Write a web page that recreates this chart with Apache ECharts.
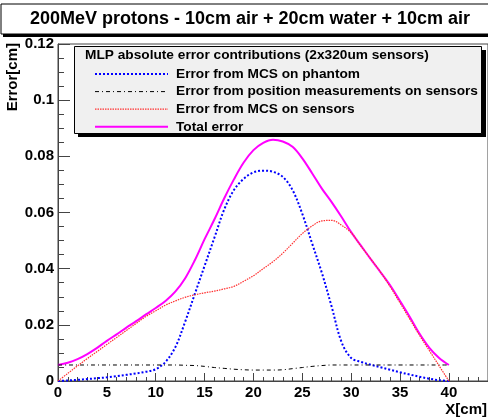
<!DOCTYPE html>
<html>
<head>
<meta charset="utf-8">
<script src="https://cdn.jsdelivr.net/npm/echarts@6/dist/echarts.min.js"></script>
<style>
html,body{margin:0;padding:0;background:#fff;}
#chart{width:488px;height:417px;}
</style>
</head>
<body>
<div id="chart"></div>
<script>
const chartTitle = '200MeV protons - 10cm air + 20cm water + 10cm air';
const legendHeader = 'MLP absolute error contributions (2x320um sensors)';
const seriesNames = ['Error from MCS on phantom', 'Error from position measurements on sensors', 'Error from MCS on sensors', 'Total error'];
const xTitle = 'X[cm]';
const yTitle = 'Error[cm]';

const xValues = [0,1,2,3,4,5,6,7,8,9,10,11,12,13,14,15,16,17,18,19,20,21,22,23,24,25,26,27,28,29,30,31,32,33,34,35,36,37,38,39,40];

const mcsPhantom = [0,0.0002,0.0004,0.0007,0.001,0.0013,0.0017,0.0022,0.0027,0.0033,0.0042,0.0068,0.012,0.021,0.031,0.041,0.051,0.061,0.068,0.072,0.0743,0.0749,0.0745,0.0727,0.068,0.0595,0.049,0.0385,0.0265,0.014,0.0082,0.0068,0.0058,0.0049,0.004,0.0031,0.0023,0.0015,0.0008,0.0003,0];
const posMeas = [0.0057,0.0057,0.0057,0.0057,0.0057,0.0057,0.0057,0.0057,0.0057,0.0057,0.0057,0.0057,0.0057,0.0056,0.0055,0.0052,0.0048,0.0045,0.0042,0.004,0.0039,0.0039,0.0039,0.004,0.0044,0.0048,0.0052,0.0055,0.0057,0.0057,0.0057,0.0057,0.0057,0.0057,0.0057,0.0057,0.0057,0.0057,0.0057,0.0057,0.0057];
const mcsSensors = [0,0.0027,0.0054,0.008,0.0105,0.013,0.0155,0.018,0.0205,0.023,0.025,0.027,0.0285,0.0298,0.0307,0.0314,0.032,0.0328,0.0337,0.0355,0.0375,0.04,0.0425,0.0455,0.049,0.0525,0.0552,0.057,0.0572,0.0555,0.0528,0.048,0.0435,0.0388,0.0335,0.0278,0.022,0.0162,0.0108,0.0054,0];
const totalErr = [0.0057,0.0065,0.0078,0.0096,0.0118,0.0143,0.0166,0.019,0.0213,0.0237,0.026,0.0285,0.0318,0.0365,0.043,0.0505,0.0575,0.065,0.0718,0.0778,0.0822,0.0848,0.0859,0.0853,0.0834,0.0793,0.074,0.0685,0.0637,0.0585,0.053,0.0482,0.0434,0.0388,0.034,0.0285,0.0228,0.0168,0.0118,0.0082,0.0057];

const FONT = 'Liberation Sans, Arial, Helvetica, sans-serif';
function pairs(arr){ return xValues.map((x,i)=>[x, arr[i]]); }

const styles = [
  {color:'#0000ff', width:2, type:[2,2]},
  {color:'#000000', width:1, type:[4,3,1,3]},
  {color:'#ff3030', width:1.2, type:[1.5,1]},
  {color:'#ff00ff', width:2, type:'solid'}
];

const chart = echarts.init(document.getElementById('chart'), null, {renderer:'canvas'});
const axisColor = '#444';
chart.setOption({
  animation: false,
  backgroundColor: '#fff',
  grid: {left:58, top:44, right:0, bottom:36, show:true, borderColor:axisColor, borderWidth:1, backgroundColor:'transparent'},
  xAxis: {
    type:'value', min:0, max:44, interval:5,
    axisLine:{lineStyle:{color:axisColor, width:1}},
    axisTick:{inside:true, length:8, lineStyle:{color:axisColor}},
    minorTick:{show:true, splitNumber:5, length:4, lineStyle:{color:axisColor}},
    splitLine:{show:false},
    axisLabel:{color:'#000', fontFamily:FONT, fontWeight:'bold', fontSize:15, margin:4, showMaxLabel:false}
  },
  yAxis: {
    type:'value', min:0, max:0.12, interval:0.02,
    axisLine:{lineStyle:{color:axisColor, width:1}},
    axisTick:{inside:true, length:12, lineStyle:{color:axisColor}},
    minorTick:{show:true, splitNumber:4, length:6, lineStyle:{color:axisColor}},
    splitLine:{show:false},
    axisLabel:{color:'#000', fontFamily:FONT, fontWeight:'bold', fontSize:15, margin:4,
      formatter: v => String(+v.toFixed(2))}
  },
  legend: {
    data: seriesNames.map((n,i)=>({name:n, lineStyle:{color:styles[i].color, width:styles[i].width, type:styles[i].type}})),
    orient:'vertical', left:89, top:62,
    itemWidth:73, itemHeight:14, itemGap:3.6,
    itemStyle:{opacity:0},
    textStyle:{color:'#000', fontFamily:FONT, fontWeight:'bold', fontSize:13.7, padding:[0,0,0,3]},
    selectedMode:false, z:20
  },
  series: seriesNames.map((n,i)=>({
    name:n, type:'line', data:pairs([mcsPhantom,posMeas,mcsSensors,totalErr][i]), symbol:'none', smooth:0.35,
    lineStyle:styles[i], itemStyle:{color:styles[i].color}, z:[3,3,4,2][i]
  })),
  graphic: [
    {type:'rect', shape:{x:3, y:7, width:490, height:30}, style:{fill:'#000'}, z:10},
    {type:'rect', shape:{x:1, y:4, width:490, height:30}, style:{fill:'#fff', stroke:'#000', lineWidth:1}, z:11},
    {type:'text', x:250, y:19, style:{text:chartTitle, font:'bold 18px '+FONT, fill:'#000', align:'center', verticalAlign:'middle'}, z:12},
    {type:'rect', shape:{x:78, y:50, width:408, height:87}, style:{fill:'#000'}, z:10},
    {type:'rect', shape:{x:74.5, y:46.5, width:407, height:87}, style:{fill:'#f0f0f0', stroke:'#000', lineWidth:1}, z:11},
    {type:'text', x:85, y:55, style:{text:legendHeader, font:'bold 13.7px '+FONT, fill:'#000', align:'left', verticalAlign:'middle'}, z:12},
    {type:'text', x:13, y:43, rotation:Math.PI/2, style:{text:yTitle, font:'bold 15px '+FONT, fill:'#000', align:'right', verticalAlign:'middle'}, z:12},
    {type:'text', x:487, y:410, style:{text:xTitle, font:'bold 15px '+FONT, fill:'#000', align:'right', verticalAlign:'middle'}, z:12}
  ]
});
</script>
</body>
</html>
